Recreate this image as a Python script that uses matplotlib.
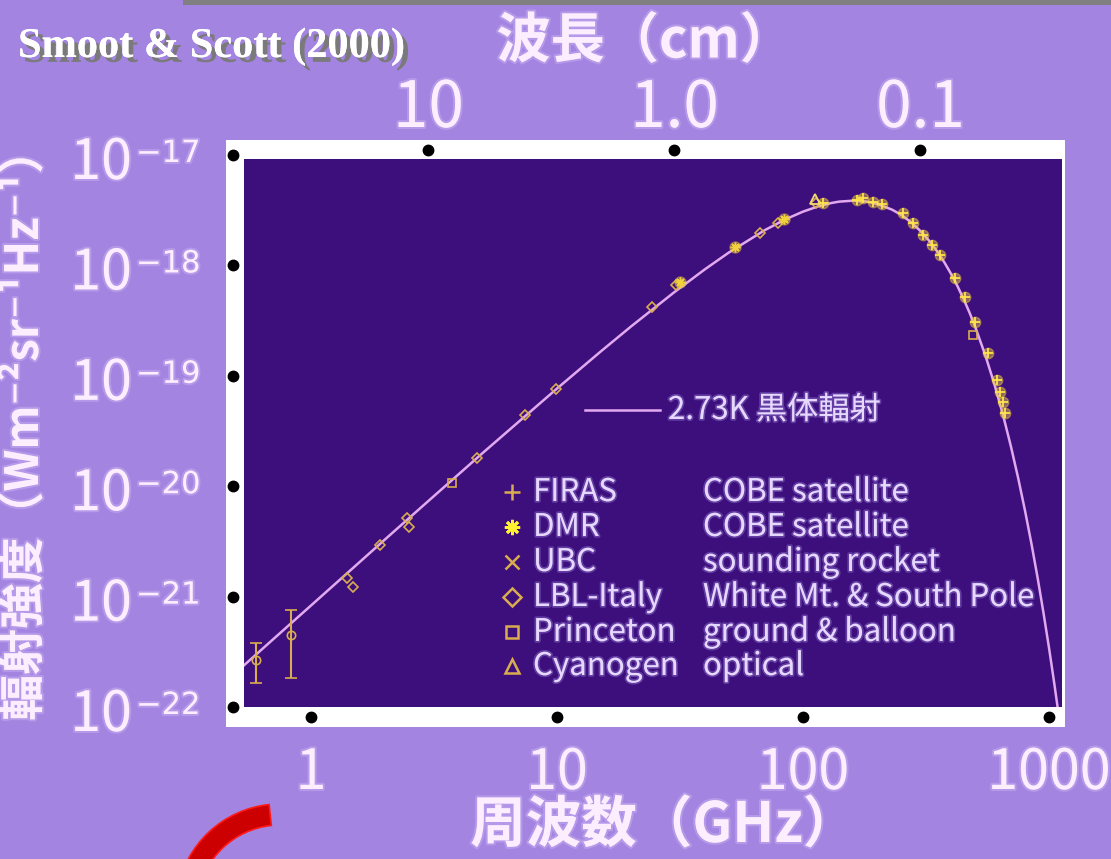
import numpy as np
import matplotlib
matplotlib.use("Agg")
import matplotlib.pyplot as plt
from matplotlib import transforms as mtrans
from matplotlib.patches import Rectangle, Wedge
from matplotlib.ticker import NullLocator
import matplotlib.patheffects as pe

plt.rcParams['font.family'] = ['Noto Sans CJK JP', 'DejaVu Sans']

# ---------------- data ----------------
# 2.73 K blackbody curve  (frequency GHz, intensity W m^-2 sr^-1 Hz^-1)
bb_freq = [0.53, 0.7, 1, 2, 3, 5, 10, 15, 20, 30, 40, 50, 70, 85, 100, 115, 130,
           140, 160, 180, 200, 230, 250, 275, 300, 325, 350, 375, 400, 425, 450,
           475, 500, 550, 600, 650, 700, 750, 800, 850, 900, 950, 1000, 1050,
           1100, 1130]
bb_int = [2.35e-22, 4.09e-22, 8.31e-22, 3.30e-21, 7.35e-21, 2.01e-20, 7.67e-20,
          1.65e-19, 2.80e-19, 5.73e-19, 9.25e-19, 1.31e-18, 2.09e-18, 2.62e-18,
          3.07e-18, 3.42e-18, 3.67e-18, 3.78e-18, 3.86e-18, 3.79e-18, 3.61e-18,
          3.20e-18, 2.88e-18, 2.46e-18, 2.05e-18, 1.68e-18, 1.35e-18, 1.07e-18,
          8.35e-19, 6.45e-19, 4.93e-19, 3.74e-19, 2.81e-19, 1.55e-19, 8.36e-20,
          4.42e-20, 2.29e-20, 1.17e-20, 5.89e-21, 2.94e-21, 1.45e-21, 7.06e-22,
          3.42e-22, 1.64e-22, 7.85e-23, 4.9e-23]

firas_freq = [121, 166, 175, 193, 210, 255, 280, 308, 335, 361, 415, 456, 500,
              565, 615, 632, 650, 662]
firas_int = [3.67e-18, 3.91e-18, 4.08e-18, 3.75e-18, 3.60e-18, 2.99e-18, 2.42e-18,
             1.88e-18, 1.53e-18, 1.24e-18, 7.69e-19, 5.18e-19, 3.07e-19, 1.61e-19,
             9.16e-20, 7.13e-20, 5.79e-20, 4.60e-20]

dmr_freq = [31.5, 53, 84]
dmr_int = [7.08e-19, 1.47e-18, 2.63e-18]

lbl_freq = [1.40, 1.48, 1.91, 2.45, 2.50, 4.73, 7.41, 9.95, 24.3, 30.5, 66.9, 79.1, 113]
lbl_int = [1.47e-21, 1.22e-21, 2.93e-21, 5.15e-21, 4.27e-21, 1.80e-20, 4.42e-20,
           7.59e-20, 4.20e-19, 6.64e-19, 1.96e-18, 2.42e-18, 3.67e-18]

lowf_freq = [0.598, 0.829]
lowf_int = [2.67e-22, 4.49e-22]
lowf_err_lo = [1.65e-22, 1.83e-22]
lowf_err_hi = [3.80e-22, 7.57e-22]

princeton_freq = [3.74, 491]
princeton_int = [1.07e-20, 2.34e-19]

cyanogen_freq = [112]
cyanogen_int = [3.99e-18]

x_ticks = [1, 10, 100, 1000]
x_tick_labels = ['1', '10', '100', '1000']
wl_ticks = [10, 1.0, 0.1]
wl_tick_labels = ['10', '1.0', '0.1']
y_ticks = [1e-17, 1e-18, 1e-19, 1e-20, 1e-21, 1e-22]
y_tick_exps = ['\u221217', '\u221218', '\u221219', '\u221220', '\u221221', '\u221222']

legend_names = ['FIRAS', 'DMR', 'UBC', 'LBL-Italy', 'Princeton', 'Cyanogen']
legend_desc = ['COBE satellite', 'COBE satellite', 'sounding rocket',
               'White Mt. & South Pole', 'ground & balloon', 'optical']

# ---------------- style ----------------
BG = '#A384E0'
DARK = '#3C0F7C'
TXT = '#FCEEFF'
LEG_TXT = '#E6D8FF'
CURVE = '#E3A9F0'
GOLD = '#D9AC50'
YEL = '#F2D23A'
NUMFONT = ['Noto Sans CJK JP', 'DejaVu Sans']

W, H = 1111, 859
fig = plt.figure(figsize=(W / 100, H / 100), dpi=100)
fig.patch.set_facecolor(BG)


def px_rect(x0, y0, x1, y1):
    return [x0 / W, 1 - y1 / H, (x1 - x0) / W, (y1 - y0) / H]


fig.patches.append(Rectangle((183 / W, 1 - 5 / H), (W - 183) / W, 5 / H,
                             transform=fig.transFigure, facecolor='#808080',
                             edgecolor='none', zorder=-2))
fig.patches.append(Rectangle((226 / W, 1 - 727 / H), (1065 - 226) / W, (727 - 140) / H,
                             transform=fig.transFigure, facecolor='white',
                             edgecolor='none', zorder=-2))

ax = fig.add_axes(px_rect(244, 159, 1062, 707))
ax.set_facecolor(DARK)
ax.set_xscale('log')
ax.set_yscale('log')
ax.set_xlim(0.534, 1129)
ax.set_ylim(1e-22, 9.2e-18)
for s in ax.spines.values():
    s.set_visible(False)
for a in (ax.xaxis, ax.yaxis):
    a.set_major_locator(NullLocator())
    a.set_minor_locator(NullLocator())

# blackbody curve
ax.plot(bb_freq, bb_int, color=CURVE, lw=1.8, zorder=2)

# measurements
ax.errorbar(lowf_freq, lowf_int,
            yerr=[np.array(lowf_int) - np.array(lowf_err_lo),
                  np.array(lowf_err_hi) - np.array(lowf_int)],
            fmt='o', ms=6, mfc='none', mec=GOLD, mew=1.2, ecolor=GOLD,
            elinewidth=1.5, capsize=4, capthick=1.5, zorder=3)
ax.plot(lbl_freq, lbl_int, 'D', ms=5.5, mfc='none', mec=GOLD, mew=1.2, ls='none', zorder=3)
ax.plot(princeton_freq, princeton_int, 's', ms=5.5, mfc='none', mec=GOLD, mew=1.2,
        ls='none', zorder=3)
ax.plot(dmr_freq, dmr_int, 'o', ms=8, color=YEL, alpha=0.4, ls='none', zorder=3)
ax.plot(dmr_freq, dmr_int, marker=(8, 2, 0), ms=7, mec=YEL, mew=1.1, ls='none', zorder=4)
ax.plot(firas_freq, firas_int, 'o', ms=7.5, color=YEL, alpha=0.45, ls='none', zorder=3)
ax.plot(firas_freq, firas_int, '+', ms=7, mec='#FFE44A', mew=1.3, ls='none', zorder=4)
ax.plot(cyanogen_freq, cyanogen_int, '^', ms=7, mfc='none', mec='#F4D870', mew=1.3,
        ls='none', zorder=4)

# tick dots
dot_kw = dict(marker='o', ms=7.5, color='black', ls='none', clip_on=False, zorder=6)
ax.plot(np.zeros(len(y_ticks)), y_ticks,
        transform=mtrans.offset_copy(ax.get_yaxis_transform(), fig=fig, x=-11, y=0, units='dots'),
        **dot_kw)
ax.plot(x_ticks, np.zeros(len(x_ticks)),
        transform=mtrans.offset_copy(ax.get_xaxis_transform(), fig=fig, x=0, y=-10, units='dots'),
        **dot_kw)
wl_freq = 30.0 / np.array(wl_ticks)
ax.plot(wl_freq, np.ones(len(wl_freq)),
        transform=mtrans.offset_copy(ax.get_xaxis_transform(), fig=fig, x=0, y=9, units='dots'),
        **dot_kw)

glow = [pe.withStroke(linewidth=3, foreground='#C9AEF2', alpha=0.5)]

# y tick labels
t10 = mtrans.offset_copy(ax.get_yaxis_transform(), fig=fig, x=-112, y=-24, units='dots')
tsup = mtrans.offset_copy(ax.get_yaxis_transform(), fig=fig, x=-108, y=-7, units='dots')
for v, e in zip(y_ticks, y_tick_exps):
    ax.text(0, v, '10', transform=t10, ha='right', va='baseline', fontsize=40,
            family=NUMFONT, color=TXT, path_effects=glow)
    ax.text(0, v, e, transform=tsup, ha='left', va='baseline', fontsize=22,
            family=['DejaVu Sans'], color=TXT, path_effects=glow)

# bottom tick labels
tb = mtrans.offset_copy(ax.get_xaxis_transform(), fig=fig, x=0, y=-82, units='dots')
for v, s in zip(x_ticks, x_tick_labels):
    ax.text(v, 0, s, transform=tb, ha='center', va='baseline', fontsize=40,
            family=NUMFONT, color=TXT, path_effects=glow, clip_on=False)

# top tick labels
tt = mtrans.offset_copy(ax.get_xaxis_transform(), fig=fig, x=0, y=32, units='dots')
for v, s in zip(wl_freq, wl_tick_labels):
    ax.text(v, 1, s, transform=tt, ha='center', va='baseline', fontsize=46,
            family=NUMFONT, color=TXT, path_effects=glow)

# axis titles
fig.text(664 / W, 1 - 826 / H, '周波数（GHz）', ha='center', va='center', fontsize=40,
         fontweight='bold', color=TXT, path_effects=glow)
fig.text(645 / W, 1 - 42 / H, '波長（cm）', ha='center', va='center', fontsize=39,
         fontweight='bold', color=TXT, path_effects=glow)
fig.text(25 / W, 1 - 424 / H, '輻射強度（Wm⁻²sr⁻¹Hz⁻¹）', ha='center', va='center',
         rotation=90, fontsize=33, fontweight='bold', color=TXT, path_effects=glow)

# title with shadow
fig.text(18 / W, 1 - 57 / H, 'Smoot & Scott (2000)', ha='left', va='baseline',
         fontsize=30.5, fontweight='bold', family=['Liberation Serif', 'DejaVu Serif'],
         color='white',
         path_effects=[pe.withSimplePatchShadow(offset=(3.5, -3.5), shadow_rgbFace='#7A7A7A',
                                                alpha=1.0), pe.Normal()])

# legend (curve)
lg_glow = [pe.withStroke(linewidth=2.5, foreground='#8C6CC8', alpha=0.5)]
ax.plot([0.4169, 0.5086], [0.542, 0.542], transform=ax.transAxes, color=CURVE, lw=1.8)
ax.text(0.5183, 0.542, '2.73K 黒体輻射', transform=ax.transAxes, ha='left', va='center',
        fontsize=22.5, color=LEG_TXT, path_effects=lg_glow)

# legend (experiments)
rows = [0.3923, 0.3285, 0.2646, 0.2007, 0.1369, 0.0748]
leg_markers = [dict(marker='+', ms=11, mec=GOLD, mew=1.8),
               dict(marker=(8, 2, 0), ms=11, mec='#FFF030', mew=2.0),
               dict(marker='x', ms=10, mec=GOLD, mew=1.8),
               dict(marker='D', ms=9, mfc='none', mec=GOLD, mew=1.8),
               dict(marker='s', ms=9, mfc='none', mec=GOLD, mew=1.8),
               dict(marker='^', ms=10, mfc='none', mec=GOLD, mew=1.8)]
for yv, nm, ds, mk in zip(rows, legend_names, legend_desc, leg_markers):
    ax.plot([0.3276], [yv], transform=ax.transAxes, ls='none', **mk)
    ax.text(0.3533, yv, nm, transform=ax.transAxes, ha='left', va='center', fontsize=22.5,
            color=LEG_TXT, path_effects=lg_glow)
    ax.text(0.5611, yv, ds, transform=ax.transAxes, ha='left', va='center', fontsize=22.5,
            color=LEG_TXT, path_effects=lg_glow)

# red arc decoration at bottom-left
ov = fig.add_axes([0, 0, 1, 1], zorder=10)
ov.set_xlim(0, W)
ov.set_ylim(0, H)
ov.axis('off')
ov.patch.set_visible(False)
ov.add_patch(Wedge((280, H - 908), 104, 96, 170, width=21, facecolor='#CC0000',
                   edgecolor='#FF1A1A', lw=1.2))

fig.savefig('out.png', dpi=100, facecolor=BG)
